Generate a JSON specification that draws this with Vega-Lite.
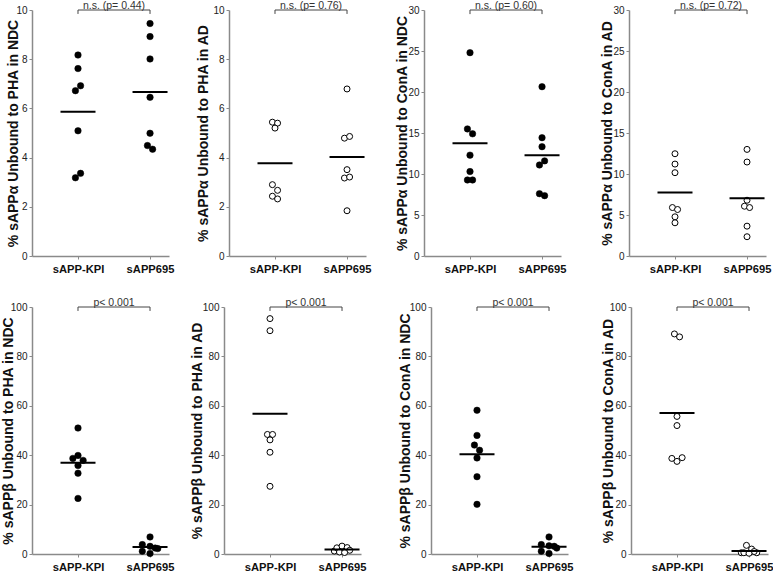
{
  "$schema": "https://vega.github.io/schema/vega-lite/v6.json",
  "padding": {"left": 1, "top": 1, "right": 0, "bottom": 0},
  "background": "white",
  "config": {
    "font": "Liberation Sans",
    "view": {"stroke": null},
    "axis": {"grid": false, "domainColor": "#8a8a8a", "domainWidth": 1.5, "tickColor": "#8a8a8a", "tickWidth": 1},
    "axisY": {"tickSize": 3, "labelFontSize": 10, "labelColor": "#222", "labelPadding": 2, "titleFontSize": 14, "titleFontWeight": "bold", "titleColor": "#111", "minExtent": 10, "maxExtent": 10},
    "axisX": {"tickSize": 3, "labelFontSize": 11.2, "labelFontWeight": "bold", "labelColor": "#111", "labelPadding": 4, "labelAngle": 0, "title": null}
  },
  "datasets": {
    "pts": [
      {"p": "a1", "g": "sAPP-KPI", "v": 8.17, "j": 0},
      {"p": "a1", "g": "sAPP-KPI", "v": 7.62, "j": 0},
      {"p": "a1", "g": "sAPP-KPI", "v": 6.72, "j": -1},
      {"p": "a1", "g": "sAPP-KPI", "v": 6.92, "j": 1},
      {"p": "a1", "g": "sAPP-KPI", "v": 5.09, "j": 0},
      {"p": "a1", "g": "sAPP-KPI", "v": 3.18, "j": -1},
      {"p": "a1", "g": "sAPP-KPI", "v": 3.36, "j": 1},
      {"p": "a1", "g": "sAPP695", "v": 9.45, "j": 0},
      {"p": "a1", "g": "sAPP695", "v": 8.92, "j": 0},
      {"p": "a1", "g": "sAPP695", "v": 8.01, "j": 0},
      {"p": "a1", "g": "sAPP695", "v": 6.45, "j": 0},
      {"p": "a1", "g": "sAPP695", "v": 4.99, "j": 0},
      {"p": "a1", "g": "sAPP695", "v": 4.49, "j": -1},
      {"p": "a1", "g": "sAPP695", "v": 4.34, "j": 1},

      {"p": "a2", "g": "sAPP-KPI", "v": 5.44, "j": -1},
      {"p": "a2", "g": "sAPP-KPI", "v": 5.40, "j": 1},
      {"p": "a2", "g": "sAPP-KPI", "v": 5.20, "j": 0},
      {"p": "a2", "g": "sAPP-KPI", "v": 2.90, "j": -1},
      {"p": "a2", "g": "sAPP-KPI", "v": 2.67, "j": 1},
      {"p": "a2", "g": "sAPP-KPI", "v": 2.43, "j": -1},
      {"p": "a2", "g": "sAPP-KPI", "v": 2.32, "j": 1},
      {"p": "a2", "g": "sAPP695", "v": 6.79, "j": 0},
      {"p": "a2", "g": "sAPP695", "v": 4.79, "j": -1},
      {"p": "a2", "g": "sAPP695", "v": 4.86, "j": 1},
      {"p": "a2", "g": "sAPP695", "v": 3.51, "j": 0},
      {"p": "a2", "g": "sAPP695", "v": 3.17, "j": -1},
      {"p": "a2", "g": "sAPP695", "v": 3.21, "j": 1},
      {"p": "a2", "g": "sAPP695", "v": 1.84, "j": 0},

      {"p": "a3", "g": "sAPP-KPI", "v": 24.8, "j": 0},
      {"p": "a3", "g": "sAPP-KPI", "v": 15.5, "j": -1},
      {"p": "a3", "g": "sAPP-KPI", "v": 14.9, "j": 1},
      {"p": "a3", "g": "sAPP-KPI", "v": 12.3, "j": 0},
      {"p": "a3", "g": "sAPP-KPI", "v": 10.3, "j": 0},
      {"p": "a3", "g": "sAPP-KPI", "v": 9.27, "j": -1},
      {"p": "a3", "g": "sAPP-KPI", "v": 9.27, "j": 1},
      {"p": "a3", "g": "sAPP695", "v": 20.65, "j": 0},
      {"p": "a3", "g": "sAPP695", "v": 14.43, "j": 0},
      {"p": "a3", "g": "sAPP695", "v": 13.33, "j": 0},
      {"p": "a3", "g": "sAPP695", "v": 11.1, "j": -1},
      {"p": "a3", "g": "sAPP695", "v": 11.6, "j": 1},
      {"p": "a3", "g": "sAPP695", "v": 7.6, "j": -1},
      {"p": "a3", "g": "sAPP695", "v": 7.36, "j": 1},

      {"p": "a4", "g": "sAPP-KPI", "v": 12.47, "j": 0},
      {"p": "a4", "g": "sAPP-KPI", "v": 11.21, "j": 0},
      {"p": "a4", "g": "sAPP-KPI", "v": 10.16, "j": 0},
      {"p": "a4", "g": "sAPP-KPI", "v": 5.91, "j": -1},
      {"p": "a4", "g": "sAPP-KPI", "v": 5.67, "j": 1},
      {"p": "a4", "g": "sAPP-KPI", "v": 4.78, "j": 0},
      {"p": "a4", "g": "sAPP-KPI", "v": 4.05, "j": 0},
      {"p": "a4", "g": "sAPP695", "v": 13.0, "j": 0},
      {"p": "a4", "g": "sAPP695", "v": 11.46, "j": 0},
      {"p": "a4", "g": "sAPP695", "v": 6.8, "j": 0},
      {"p": "a4", "g": "sAPP695", "v": 6.07, "j": -1},
      {"p": "a4", "g": "sAPP695", "v": 5.91, "j": 1},
      {"p": "a4", "g": "sAPP695", "v": 3.64, "j": 0},
      {"p": "a4", "g": "sAPP695", "v": 2.35, "j": 0},

      {"p": "b1", "g": "sAPP-KPI", "v": 51.0, "j": 0},
      {"p": "b1", "g": "sAPP-KPI", "v": 38.7, "j": -2},
      {"p": "b1", "g": "sAPP-KPI", "v": 39.9, "j": 0},
      {"p": "b1", "g": "sAPP-KPI", "v": 37.9, "j": 2},
      {"p": "b1", "g": "sAPP-KPI", "v": 35.8, "j": 0},
      {"p": "b1", "g": "sAPP-KPI", "v": 32.7, "j": 0},
      {"p": "b1", "g": "sAPP-KPI", "v": 22.5, "j": 0},
      {"p": "b1", "g": "sAPP695", "v": 6.9, "j": 0},
      {"p": "b1", "g": "sAPP695", "v": 3.8, "j": -3},
      {"p": "b1", "g": "sAPP695", "v": 3.1, "j": 0},
      {"p": "b1", "g": "sAPP695", "v": 2.4, "j": 2},
      {"p": "b1", "g": "sAPP695", "v": 2.2, "j": 3},
      {"p": "b1", "g": "sAPP695", "v": 1.1, "j": -3},
      {"p": "b1", "g": "sAPP695", "v": 0.2, "j": 0},

      {"p": "b2", "g": "sAPP-KPI", "v": 95.3, "j": 0},
      {"p": "b2", "g": "sAPP-KPI", "v": 90.4, "j": 0},
      {"p": "b2", "g": "sAPP-KPI", "v": 48.4, "j": -1},
      {"p": "b2", "g": "sAPP-KPI", "v": 48.4, "j": 1},
      {"p": "b2", "g": "sAPP-KPI", "v": 46.2, "j": 0},
      {"p": "b2", "g": "sAPP-KPI", "v": 41.2, "j": 0},
      {"p": "b2", "g": "sAPP-KPI", "v": 27.4, "j": 0},
      {"p": "b2", "g": "sAPP695", "v": 1.2, "j": -3},
      {"p": "b2", "g": "sAPP695", "v": 2.5, "j": -2},
      {"p": "b2", "g": "sAPP695", "v": 3.2, "j": 0},
      {"p": "b2", "g": "sAPP695", "v": 2.6, "j": 2},
      {"p": "b2", "g": "sAPP695", "v": 1.5, "j": 3},
      {"p": "b2", "g": "sAPP695", "v": 0.8, "j": -1},
      {"p": "b2", "g": "sAPP695", "v": 0.6, "j": 1},

      {"p": "b3", "g": "sAPP-KPI", "v": 58.2, "j": 0},
      {"p": "b3", "g": "sAPP-KPI", "v": 48.0, "j": 0},
      {"p": "b3", "g": "sAPP-KPI", "v": 44.1, "j": -1},
      {"p": "b3", "g": "sAPP-KPI", "v": 42.0, "j": 1},
      {"p": "b3", "g": "sAPP-KPI", "v": 38.9, "j": 0},
      {"p": "b3", "g": "sAPP-KPI", "v": 31.3, "j": 0},
      {"p": "b3", "g": "sAPP-KPI", "v": 20.1, "j": 0},
      {"p": "b3", "g": "sAPP695", "v": 6.9, "j": 0},
      {"p": "b3", "g": "sAPP695", "v": 3.8, "j": -3},
      {"p": "b3", "g": "sAPP695", "v": 3.3, "j": 0},
      {"p": "b3", "g": "sAPP695", "v": 3.1, "j": 2},
      {"p": "b3", "g": "sAPP695", "v": 2.4, "j": 3},
      {"p": "b3", "g": "sAPP695", "v": 1.1, "j": -3},
      {"p": "b3", "g": "sAPP695", "v": 0.2, "j": 0},

      {"p": "b4", "g": "sAPP-KPI", "v": 89.1, "j": -1},
      {"p": "b4", "g": "sAPP-KPI", "v": 87.9, "j": 1},
      {"p": "b4", "g": "sAPP-KPI", "v": 55.7, "j": 0},
      {"p": "b4", "g": "sAPP-KPI", "v": 52.0, "j": 0},
      {"p": "b4", "g": "sAPP-KPI", "v": 38.7, "j": -2},
      {"p": "b4", "g": "sAPP-KPI", "v": 37.5, "j": 0},
      {"p": "b4", "g": "sAPP-KPI", "v": 39.0, "j": 2},
      {"p": "b4", "g": "sAPP695", "v": 3.5, "j": -1},
      {"p": "b4", "g": "sAPP695", "v": 2.0, "j": 1},
      {"p": "b4", "g": "sAPP695", "v": 0.5, "j": -3},
      {"p": "b4", "g": "sAPP695", "v": 0.5, "j": -2},
      {"p": "b4", "g": "sAPP695", "v": 0.5, "j": 3},
      {"p": "b4", "g": "sAPP695", "v": 1.0, "j": 2},
      {"p": "b4", "g": "sAPP695", "v": 0.3, "j": 0}
    ],
    "notes": [
      {"p": "a1", "label": "n.s. (p= 0.44)", "top": 10, "lo": 9.84},
      {"p": "a2", "label": "n.s. (p= 0.76)", "top": 10, "lo": 9.84},
      {"p": "a3", "label": "n.s. (p= 0.60)", "top": 30, "lo": 29.5},
      {"p": "a4", "label": "n.s. (p= 0.72)", "top": 30, "lo": 29.5},
      {"p": "b1", "label": "p< 0.001", "top": 100, "lo": 98.4},
      {"p": "b2", "label": "p< 0.001", "top": 100, "lo": 98.4},
      {"p": "b3", "label": "p< 0.001", "top": 100, "lo": 98.4},
      {"p": "b4", "label": "p< 0.001", "top": 100, "lo": 98.4}
    ]
  },
  "vconcat": [
    {
      "spacing": 22,
      "hconcat": [
        {
          "width": 137, "height": 246,
          "layer": [
            {"data": {"name": "pts"}, "transform": [{"filter": "datum.p == 'a1'"}],
             "mark": {"type": "point", "shape": "circle", "filled": true, "fill": "black", "stroke": "black", "strokeWidth": 0.5, "size": 42, "opacity": 1},
             "encoding": {
               "x": {"field": "g", "type": "nominal", "scale": {"type": "point", "domain": ["sAPP-KPI", "sAPP695"], "padding": 0.451, "align": 0.708}},
               "xOffset": {"field": "j", "type": "ordinal", "scale": {"type": "point", "domain": [-3, -2, -1, 0, 1, 2, 3], "range": [-9, 9]}},
               "y": {"field": "v", "type": "quantitative", "scale": {"domain": [0, 10]}, "axis": {"values": [0, 2, 4, 6, 8, 10], "title": "% sAPPα Unbound to PHA in NDC", "titlePadding": 2}}
             }},
            {"data": {"name": "pts"}, "transform": [{"filter": "datum.p == 'a1'"}],
             "mark": {"type": "tick", "color": "black", "thickness": 2, "size": 35, "opacity": 1},
             "encoding": {"x": {"field": "g", "type": "nominal"}, "y": {"aggregate": "mean", "field": "v", "type": "quantitative"}}},
            {"data": {"name": "notes"}, "transform": [{"filter": "datum.p == 'a1'"}],
             "mark": {"type": "rule", "color": "#444", "strokeWidth": 1},
             "encoding": {"x": {"datum": "sAPP-KPI"}, "x2": {"datum": "sAPP695"}, "y": {"field": "top", "type": "quantitative"}}},
            {"data": {"name": "notes"}, "transform": [{"filter": "datum.p == 'a1'"}],
             "mark": {"type": "rule", "color": "#444", "strokeWidth": 1},
             "encoding": {"x": {"datum": "sAPP-KPI"}, "y": {"field": "top", "type": "quantitative"}, "y2": {"field": "lo"}}},
            {"data": {"name": "notes"}, "transform": [{"filter": "datum.p == 'a1'"}],
             "mark": {"type": "rule", "color": "#444", "strokeWidth": 1},
             "encoding": {"x": {"datum": "sAPP695"}, "y": {"field": "top", "type": "quantitative"}, "y2": {"field": "lo"}}},
            {"data": {"name": "notes"}, "transform": [{"filter": "datum.p == 'a1'"}],
             "mark": {"type": "text", "align": "center", "baseline": "alphabetic", "dx": 36, "dy": -1, "fontSize": 10.5, "color": "#333"},
             "encoding": {"x": {"datum": "sAPP-KPI"}, "y": {"field": "top", "type": "quantitative"}, "text": {"field": "label"}}}
          ]
        },
        {
          "spacing": 23,
          "hconcat": [
            {
              "width": 137, "height": 246,
              "layer": [
                {"data": {"name": "pts"}, "transform": [{"filter": "datum.p == 'a2'"}],
                 "mark": {"type": "point", "shape": "circle", "filled": true, "fill": "white", "stroke": "black", "strokeWidth": 1, "size": 36, "opacity": 1},
                 "encoding": {
                   "x": {"field": "g", "type": "nominal", "scale": {"type": "point", "domain": ["sAPP-KPI", "sAPP695"], "padding": 0.451, "align": 0.708}},
                   "xOffset": {"field": "j", "type": "ordinal", "scale": {"type": "point", "domain": [-3, -2, -1, 0, 1, 2, 3], "range": [-9, 9]}},
                   "y": {"field": "v", "type": "quantitative", "scale": {"domain": [0, 10]}, "axis": {"values": [0, 2, 4, 6, 8, 10], "title": "% sAPPα Unbound to PHA in AD", "titlePadding": 9}}
                 }},
                {"data": {"name": "pts"}, "transform": [{"filter": "datum.p == 'a2'"}],
                 "mark": {"type": "tick", "color": "black", "thickness": 2, "size": 35, "opacity": 1},
                 "encoding": {"x": {"field": "g", "type": "nominal"}, "y": {"aggregate": "mean", "field": "v", "type": "quantitative"}}},
                {"data": {"name": "notes"}, "transform": [{"filter": "datum.p == 'a2'"}],
                 "mark": {"type": "rule", "color": "#444", "strokeWidth": 1},
                 "encoding": {"x": {"datum": "sAPP-KPI"}, "x2": {"datum": "sAPP695"}, "y": {"field": "top", "type": "quantitative"}}},
                {"data": {"name": "notes"}, "transform": [{"filter": "datum.p == 'a2'"}],
                 "mark": {"type": "rule", "color": "#444", "strokeWidth": 1},
                 "encoding": {"x": {"datum": "sAPP-KPI"}, "y": {"field": "top", "type": "quantitative"}, "y2": {"field": "lo"}}},
                {"data": {"name": "notes"}, "transform": [{"filter": "datum.p == 'a2'"}],
                 "mark": {"type": "rule", "color": "#444", "strokeWidth": 1},
                 "encoding": {"x": {"datum": "sAPP695"}, "y": {"field": "top", "type": "quantitative"}, "y2": {"field": "lo"}}},
                {"data": {"name": "notes"}, "transform": [{"filter": "datum.p == 'a2'"}],
                 "mark": {"type": "text", "align": "center", "baseline": "alphabetic", "dx": 36, "dy": -1, "fontSize": 10.5, "color": "#333"},
                 "encoding": {"x": {"datum": "sAPP-KPI"}, "y": {"field": "top", "type": "quantitative"}, "text": {"field": "label"}}}
              ]
            },
            {
              "spacing": 34,
              "hconcat": [
                {
                  "width": 137, "height": 246,
                  "layer": [
                    {"data": {"name": "pts"}, "transform": [{"filter": "datum.p == 'a3'"}],
                     "mark": {"type": "point", "shape": "circle", "filled": true, "fill": "black", "stroke": "black", "strokeWidth": 0.5, "size": 42, "opacity": 1},
                     "encoding": {
                       "x": {"field": "g", "type": "nominal", "scale": {"type": "point", "domain": ["sAPP-KPI", "sAPP695"], "padding": 0.451, "align": 0.708}},
                       "xOffset": {"field": "j", "type": "ordinal", "scale": {"type": "point", "domain": [-3, -2, -1, 0, 1, 2, 3], "range": [-9, 9]}},
                       "y": {"field": "v", "type": "quantitative", "scale": {"domain": [0, 30]}, "axis": {"values": [0, 5, 10, 15, 20, 25, 30], "title": "% sAPPα Unbound to ConA in NDC", "titlePadding": 5}}
                     }},
                    {"data": {"name": "pts"}, "transform": [{"filter": "datum.p == 'a3'"}],
                     "mark": {"type": "tick", "color": "black", "thickness": 2, "size": 35, "opacity": 1},
                     "encoding": {"x": {"field": "g", "type": "nominal"}, "y": {"aggregate": "mean", "field": "v", "type": "quantitative"}}},
                    {"data": {"name": "notes"}, "transform": [{"filter": "datum.p == 'a3'"}],
                     "mark": {"type": "rule", "color": "#444", "strokeWidth": 1},
                     "encoding": {"x": {"datum": "sAPP-KPI"}, "x2": {"datum": "sAPP695"}, "y": {"field": "top", "type": "quantitative"}}},
                    {"data": {"name": "notes"}, "transform": [{"filter": "datum.p == 'a3'"}],
                     "mark": {"type": "rule", "color": "#444", "strokeWidth": 1},
                     "encoding": {"x": {"datum": "sAPP-KPI"}, "y": {"field": "top", "type": "quantitative"}, "y2": {"field": "lo"}}},
                    {"data": {"name": "notes"}, "transform": [{"filter": "datum.p == 'a3'"}],
                     "mark": {"type": "rule", "color": "#444", "strokeWidth": 1},
                     "encoding": {"x": {"datum": "sAPP695"}, "y": {"field": "top", "type": "quantitative"}, "y2": {"field": "lo"}}},
                    {"data": {"name": "notes"}, "transform": [{"filter": "datum.p == 'a3'"}],
                     "mark": {"type": "text", "align": "center", "baseline": "alphabetic", "dx": 36, "dy": -1, "fontSize": 10.5, "color": "#333"},
                     "encoding": {"x": {"datum": "sAPP-KPI"}, "y": {"field": "top", "type": "quantitative"}, "text": {"field": "label"}}}
                  ]
                },
                {
                  "width": 137, "height": 246,
                  "layer": [
                    {"data": {"name": "pts"}, "transform": [{"filter": "datum.p == 'a4'"}],
                     "mark": {"type": "point", "shape": "circle", "filled": true, "fill": "white", "stroke": "black", "strokeWidth": 1, "size": 36, "opacity": 1},
                     "encoding": {
                       "x": {"field": "g", "type": "nominal", "scale": {"type": "point", "domain": ["sAPP-KPI", "sAPP695"], "padding": 0.451, "align": 0.708}},
                       "xOffset": {"field": "j", "type": "ordinal", "scale": {"type": "point", "domain": [-3, -2, -1, 0, 1, 2, 3], "range": [-9, 9]}},
                       "y": {"field": "v", "type": "quantitative", "scale": {"domain": [0, 30]}, "axis": {"values": [0, 5, 10, 15, 20, 25, 30], "title": "% sAPPα Unbound to ConA in AD", "titlePadding": 5}}
                     }},
                    {"data": {"name": "pts"}, "transform": [{"filter": "datum.p == 'a4'"}],
                     "mark": {"type": "tick", "color": "black", "thickness": 2, "size": 35, "opacity": 1},
                     "encoding": {"x": {"field": "g", "type": "nominal"}, "y": {"aggregate": "mean", "field": "v", "type": "quantitative"}}},
                    {"data": {"name": "notes"}, "transform": [{"filter": "datum.p == 'a4'"}],
                     "mark": {"type": "rule", "color": "#444", "strokeWidth": 1},
                     "encoding": {"x": {"datum": "sAPP-KPI"}, "x2": {"datum": "sAPP695"}, "y": {"field": "top", "type": "quantitative"}}},
                    {"data": {"name": "notes"}, "transform": [{"filter": "datum.p == 'a4'"}],
                     "mark": {"type": "rule", "color": "#444", "strokeWidth": 1},
                     "encoding": {"x": {"datum": "sAPP-KPI"}, "y": {"field": "top", "type": "quantitative"}, "y2": {"field": "lo"}}},
                    {"data": {"name": "notes"}, "transform": [{"filter": "datum.p == 'a4'"}],
                     "mark": {"type": "rule", "color": "#444", "strokeWidth": 1},
                     "encoding": {"x": {"datum": "sAPP695"}, "y": {"field": "top", "type": "quantitative"}, "y2": {"field": "lo"}}},
                    {"data": {"name": "notes"}, "transform": [{"filter": "datum.p == 'a4'"}],
                     "mark": {"type": "text", "align": "center", "baseline": "alphabetic", "dx": 36, "dy": -1, "fontSize": 10.5, "color": "#333"},
                     "encoding": {"x": {"datum": "sAPP-KPI"}, "y": {"field": "top", "type": "quantitative"}, "text": {"field": "label"}}}
                  ]
                }
              ]
            }
          ]
        }
      ]
    },
    {
      "spacing": 16,
      "hconcat": [
        {
          "width": 137, "height": 247,
          "layer": [
            {"data": {"name": "pts"}, "transform": [{"filter": "datum.p == 'b1'"}],
             "mark": {"type": "point", "shape": "circle", "filled": true, "fill": "black", "stroke": "black", "strokeWidth": 0.5, "size": 42, "opacity": 1},
             "encoding": {
               "x": {"field": "g", "type": "nominal", "scale": {"type": "point", "domain": ["sAPP-KPI", "sAPP695"], "padding": 0.451, "align": 0.708}},
               "xOffset": {"field": "j", "type": "ordinal", "scale": {"type": "point", "domain": [-3, -2, -1, 0, 1, 2, 3], "range": [-9, 9]}},
               "y": {"field": "v", "type": "quantitative", "scale": {"domain": [0, 100]}, "axis": {"values": [0, 20, 40, 60, 80, 100], "title": "% sAPPβ Unbound to PHA in NDC", "titlePadding": 7}}
             }},
            {"data": {"name": "pts"}, "transform": [{"filter": "datum.p == 'b1'"}],
             "mark": {"type": "tick", "color": "black", "thickness": 2, "size": 35, "opacity": 1},
             "encoding": {"x": {"field": "g", "type": "nominal"}, "y": {"aggregate": "mean", "field": "v", "type": "quantitative"}}},
            {"data": {"name": "notes"}, "transform": [{"filter": "datum.p == 'b1'"}],
             "mark": {"type": "rule", "color": "#444", "strokeWidth": 1},
             "encoding": {"x": {"datum": "sAPP-KPI"}, "x2": {"datum": "sAPP695"}, "y": {"field": "top", "type": "quantitative"}}},
            {"data": {"name": "notes"}, "transform": [{"filter": "datum.p == 'b1'"}],
             "mark": {"type": "rule", "color": "#444", "strokeWidth": 1},
             "encoding": {"x": {"datum": "sAPP-KPI"}, "y": {"field": "top", "type": "quantitative"}, "y2": {"field": "lo"}}},
            {"data": {"name": "notes"}, "transform": [{"filter": "datum.p == 'b1'"}],
             "mark": {"type": "rule", "color": "#444", "strokeWidth": 1},
             "encoding": {"x": {"datum": "sAPP695"}, "y": {"field": "top", "type": "quantitative"}, "y2": {"field": "lo"}}},
            {"data": {"name": "notes"}, "transform": [{"filter": "datum.p == 'b1'"}],
             "mark": {"type": "text", "align": "center", "baseline": "alphabetic", "dx": 36, "dy": -1, "fontSize": 10.5, "color": "#333"},
             "encoding": {"x": {"datum": "sAPP-KPI"}, "y": {"field": "top", "type": "quantitative"}, "text": {"field": "label"}}}
          ]
        },
        {
          "spacing": 31,
          "hconcat": [
            {
              "width": 137, "height": 247,
              "layer": [
                {"data": {"name": "pts"}, "transform": [{"filter": "datum.p == 'b2'"}],
                 "mark": {"type": "point", "shape": "circle", "filled": true, "fill": "white", "stroke": "black", "strokeWidth": 1, "size": 36, "opacity": 1},
                 "encoding": {
                   "x": {"field": "g", "type": "nominal", "scale": {"type": "point", "domain": ["sAPP-KPI", "sAPP695"], "padding": 0.451, "align": 0.708}},
                   "xOffset": {"field": "j", "type": "ordinal", "scale": {"type": "point", "domain": [-3, -2, -1, 0, 1, 2, 3], "range": [-9, 9]}},
                   "y": {"field": "v", "type": "quantitative", "scale": {"domain": [0, 100]}, "axis": {"values": [0, 20, 40, 60, 80, 100], "title": "% sAPPβ Unbound to PHA in AD", "titlePadding": 10}}
                 }},
                {"data": {"name": "pts"}, "transform": [{"filter": "datum.p == 'b2'"}],
                 "mark": {"type": "tick", "color": "black", "thickness": 2, "size": 35, "opacity": 1},
                 "encoding": {"x": {"field": "g", "type": "nominal"}, "y": {"aggregate": "mean", "field": "v", "type": "quantitative"}}},
                {"data": {"name": "notes"}, "transform": [{"filter": "datum.p == 'b2'"}],
                 "mark": {"type": "rule", "color": "#444", "strokeWidth": 1},
                 "encoding": {"x": {"datum": "sAPP-KPI"}, "x2": {"datum": "sAPP695"}, "y": {"field": "top", "type": "quantitative"}}},
                {"data": {"name": "notes"}, "transform": [{"filter": "datum.p == 'b2'"}],
                 "mark": {"type": "rule", "color": "#444", "strokeWidth": 1},
                 "encoding": {"x": {"datum": "sAPP-KPI"}, "y": {"field": "top", "type": "quantitative"}, "y2": {"field": "lo"}}},
                {"data": {"name": "notes"}, "transform": [{"filter": "datum.p == 'b2'"}],
                 "mark": {"type": "rule", "color": "#444", "strokeWidth": 1},
                 "encoding": {"x": {"datum": "sAPP695"}, "y": {"field": "top", "type": "quantitative"}, "y2": {"field": "lo"}}},
                {"data": {"name": "notes"}, "transform": [{"filter": "datum.p == 'b2'"}],
                 "mark": {"type": "text", "align": "center", "baseline": "alphabetic", "dx": 36, "dy": -1, "fontSize": 10.5, "color": "#333"},
                 "encoding": {"x": {"datum": "sAPP-KPI"}, "y": {"field": "top", "type": "quantitative"}, "text": {"field": "label"}}}
              ]
            },
            {
              "spacing": 28,
              "hconcat": [
                {
                  "width": 137, "height": 247,
                  "layer": [
                    {"data": {"name": "pts"}, "transform": [{"filter": "datum.p == 'b3'"}],
                     "mark": {"type": "point", "shape": "circle", "filled": true, "fill": "black", "stroke": "black", "strokeWidth": 0.5, "size": 42, "opacity": 1},
                     "encoding": {
                       "x": {"field": "g", "type": "nominal", "scale": {"type": "point", "domain": ["sAPP-KPI", "sAPP695"], "padding": 0.451, "align": 0.708}},
                       "xOffset": {"field": "j", "type": "ordinal", "scale": {"type": "point", "domain": [-3, -2, -1, 0, 1, 2, 3], "range": [-9, 9]}},
                       "y": {"field": "v", "type": "quantitative", "scale": {"domain": [0, 100]}, "axis": {"values": [0, 20, 40, 60, 80, 100], "title": "% sAPPβ Unbound to ConA in NDC", "titlePadding": 9}}
                     }},
                    {"data": {"name": "pts"}, "transform": [{"filter": "datum.p == 'b3'"}],
                     "mark": {"type": "tick", "color": "black", "thickness": 2, "size": 35, "opacity": 1},
                     "encoding": {"x": {"field": "g", "type": "nominal"}, "y": {"aggregate": "mean", "field": "v", "type": "quantitative"}}},
                    {"data": {"name": "notes"}, "transform": [{"filter": "datum.p == 'b3'"}],
                     "mark": {"type": "rule", "color": "#444", "strokeWidth": 1},
                     "encoding": {"x": {"datum": "sAPP-KPI"}, "x2": {"datum": "sAPP695"}, "y": {"field": "top", "type": "quantitative"}}},
                    {"data": {"name": "notes"}, "transform": [{"filter": "datum.p == 'b3'"}],
                     "mark": {"type": "rule", "color": "#444", "strokeWidth": 1},
                     "encoding": {"x": {"datum": "sAPP-KPI"}, "y": {"field": "top", "type": "quantitative"}, "y2": {"field": "lo"}}},
                    {"data": {"name": "notes"}, "transform": [{"filter": "datum.p == 'b3'"}],
                     "mark": {"type": "rule", "color": "#444", "strokeWidth": 1},
                     "encoding": {"x": {"datum": "sAPP695"}, "y": {"field": "top", "type": "quantitative"}, "y2": {"field": "lo"}}},
                    {"data": {"name": "notes"}, "transform": [{"filter": "datum.p == 'b3'"}],
                     "mark": {"type": "text", "align": "center", "baseline": "alphabetic", "dx": 36, "dy": -1, "fontSize": 10.5, "color": "#333"},
                     "encoding": {"x": {"datum": "sAPP-KPI"}, "y": {"field": "top", "type": "quantitative"}, "text": {"field": "label"}}}
                  ]
                },
                {
                  "width": 137, "height": 247,
                  "layer": [
                    {"data": {"name": "pts"}, "transform": [{"filter": "datum.p == 'b4'"}],
                     "mark": {"type": "point", "shape": "circle", "filled": true, "fill": "white", "stroke": "black", "strokeWidth": 1, "size": 36, "opacity": 1},
                     "encoding": {
                       "x": {"field": "g", "type": "nominal", "scale": {"type": "point", "domain": ["sAPP-KPI", "sAPP695"], "padding": 0.451, "align": 0.708}},
                       "xOffset": {"field": "j", "type": "ordinal", "scale": {"type": "point", "domain": [-3, -2, -1, 0, 1, 2, 3], "range": [-9, 9]}},
                       "y": {"field": "v", "type": "quantitative", "scale": {"domain": [0, 100]}, "axis": {"values": [0, 20, 40, 60, 80, 100], "title": "% sAPPβ Unbound to ConA in AD", "titlePadding": 6}}
                     }},
                    {"data": {"name": "pts"}, "transform": [{"filter": "datum.p == 'b4'"}],
                     "mark": {"type": "tick", "color": "black", "thickness": 2, "size": 35, "opacity": 1},
                     "encoding": {"x": {"field": "g", "type": "nominal"}, "y": {"aggregate": "mean", "field": "v", "type": "quantitative"}}},
                    {"data": {"name": "notes"}, "transform": [{"filter": "datum.p == 'b4'"}],
                     "mark": {"type": "rule", "color": "#444", "strokeWidth": 1},
                     "encoding": {"x": {"datum": "sAPP-KPI"}, "x2": {"datum": "sAPP695"}, "y": {"field": "top", "type": "quantitative"}}},
                    {"data": {"name": "notes"}, "transform": [{"filter": "datum.p == 'b4'"}],
                     "mark": {"type": "rule", "color": "#444", "strokeWidth": 1},
                     "encoding": {"x": {"datum": "sAPP-KPI"}, "y": {"field": "top", "type": "quantitative"}, "y2": {"field": "lo"}}},
                    {"data": {"name": "notes"}, "transform": [{"filter": "datum.p == 'b4'"}],
                     "mark": {"type": "rule", "color": "#444", "strokeWidth": 1},
                     "encoding": {"x": {"datum": "sAPP695"}, "y": {"field": "top", "type": "quantitative"}, "y2": {"field": "lo"}}},
                    {"data": {"name": "notes"}, "transform": [{"filter": "datum.p == 'b4'"}],
                     "mark": {"type": "text", "align": "center", "baseline": "alphabetic", "dx": 36, "dy": -1, "fontSize": 10.5, "color": "#333"},
                     "encoding": {"x": {"datum": "sAPP-KPI"}, "y": {"field": "top", "type": "quantitative"}, "text": {"field": "label"}}}
                  ]
                }
              ]
            }
          ]
        }
      ]
    }
  ],
  "spacing": 23
}
